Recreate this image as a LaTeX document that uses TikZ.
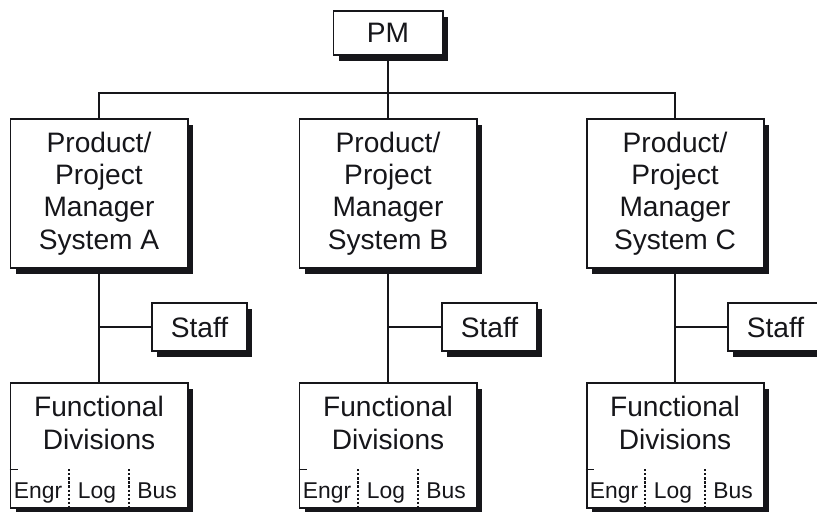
\documentclass[tikz,border=0pt]{standalone}
\usepackage{fontspec}
\setmainfont{Liberation Sans}
\usetikzlibrary{positioning,shadows}
\definecolor{ink}{RGB}{22,22,26}
\tikzset{
    box/.style={draw=ink, fill=white, line width=1.7pt, inner sep=0pt, align=center, text=ink, general shadow={fill=ink, shadow xshift=0.16cm, shadow yshift=-0.18cm}},
    pmbox/.style={box, minimum width=3.27cm, minimum height=1.32cm, font=\fontsize{24}{27.5}\selectfont},
    mgrbox/.style={box, minimum width=5.31cm, minimum height=4.47cm, font=\fontsize{24}{27.5}\selectfont},
    staffbox/.style={box, minimum width=2.85cm, minimum height=1.44cm, font=\fontsize{24}{27.5}\selectfont},
    divbox/.style={box, minimum width=5.31cm, minimum height=3.75cm},
    divtext/.style={align=center, inner sep=0pt, text=ink, font=\fontsize{24}{27.5}\selectfont},
    subtext/.style={anchor=base, inner sep=0pt, text=ink, font=\fontsize{19.5}{22}\selectfont},
    wire/.style={draw=ink, line width=1.7pt},
    tick/.style={draw=ink, line width=0.7pt},
    sepline/.style={draw=ink, line width=0.9pt, dash pattern=on 2pt off 1.5pt}
}
\begin{document}
\begin{tikzpicture}[x=0.03cm,y=-0.03cm]
\useasboundingbox (0,0) rectangle (817,512);
% top level
\node[pmbox] (pm) at (388,33) {PM};
\coordinate (bus) at (0,93);
% managers
\node[mgrbox] (ma) at (99,193.5) {Product/\\Project\\Manager\\System A};
\node[mgrbox] (mb) at (388,193.5) {Product/\\Project\\Manager\\System B};
\node[mgrbox] (mc) at (675,193.5) {Product/\\Project\\Manager\\System C};
\draw[wire] (pm.south) -- (mb.north);
\draw[wire] (ma.north) -- (ma.north |- bus) -- (mc.north |- bus) -- (mc.north);
% staff
\node[staffbox] (sa) at (199.5,327) {Staff};
\node[staffbox] (sb) at (489.5,327) {Staff};
\node[staffbox] (sc) at (775.5,327) {Staff};
% functional divisions
\node[divbox] (da) at (99,445.5) {};
\node[divbox] (db) at (388,445.5) {};
\node[divbox] (dc) at (675,445.5) {};
\draw[wire] (ma.south) -- (da.north);
\draw[wire] (mb.south) -- (db.north);
\draw[wire] (mc.south) -- (dc.north);
\draw[wire] (sa.west) -- (sa.west -| ma.south);
\draw[wire] (sb.west) -- (sb.west -| mb.south);
\draw[wire] (sc.west) -- (sc.west -| mc.south);
\node[divtext] (dta) at (99,423) {Functional\\Divisions};
\node[divtext] (dtb) at (388,423) {Functional\\Divisions};
\node[divtext] (dtc) at (675,423) {Functional\\Divisions};
% sub units A
\draw[tick] (da.west |- 0,469) -- ++(8,0);
\draw[sepline] (69,469) -- (69,508);
\draw[sepline] (129,469) -- (129,508);
\node[subtext] (ea) at (38,498) {Engr};
\node[subtext] (la) at (97,498) {Log};
\node[subtext] (ba) at (157,498) {Bus};
% sub units B
\draw[tick] (db.west |- 0,469) -- ++(8,0);
\draw[sepline] (358,469) -- (358,508);
\draw[sepline] (418,469) -- (418,508);
\node[subtext] (eb) at (327,498) {Engr};
\node[subtext] (lb) at (386,498) {Log};
\node[subtext] (bb) at (446,498) {Bus};
% sub units C
\draw[tick] (dc.west |- 0,469) -- ++(8,0);
\draw[sepline] (645,469) -- (645,508);
\draw[sepline] (705,469) -- (705,508);
\node[subtext] (ec) at (614,498) {Engr};
\node[subtext] (lc) at (673,498) {Log};
\node[subtext] (bc) at (733,498) {Bus};
\end{tikzpicture}
\end{document}
